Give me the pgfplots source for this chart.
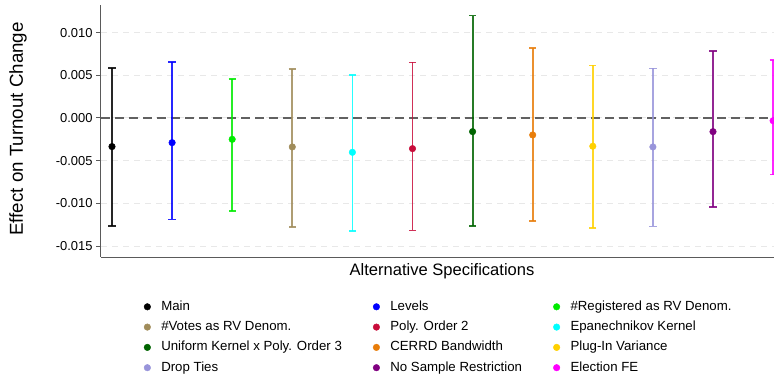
\documentclass[border=0pt]{standalone}
\usepackage{pgfplots}
\pgfplotsset{compat=1.18}
\usepackage{fontspec}
\setmainfont{Liberation Sans}

\definecolor{cMain}{RGB}{0,0,0}
\definecolor{cLevels}{RGB}{0,0,255}
\definecolor{cReg}{RGB}{0,235,0}
\definecolor{cVotes}{RGB}{160,140,90}
\definecolor{cEpan}{RGB}{0,255,255}
\definecolor{cPoly}{RGB}{200,12,58}
\definecolor{cUnif}{RGB}{0,100,0}
\definecolor{cCerrd}{RGB}{232,125,10}
\definecolor{cPlug}{RGB}{255,208,0}
\definecolor{cDrop}{RGB}{152,148,218}
\definecolor{cNoSamp}{RGB}{128,0,128}
\definecolor{cElec}{RGB}{255,0,255}
\definecolor{axisgray}{RGB}{90,90,90}

\pgfplotsset{
  spec/.style={
    only marks, mark=*, mark size=3.3bp, color=#1,
    mark options={solid, fill=#1, draw=#1},
    error bars/.cd,
      y dir=both, y explicit,
      error bar style={line width=1.8bp, #1, opacity=0.85},
      error mark options={rotate=90, mark size=3.6bp, line width=1.8bp, #1, opacity=0.85}
  }
}

\begin{document}
\begin{tikzpicture}
\useasboundingbox (-101bp,-124bp) rectangle (673bp,257bp);
\begin{axis}[
  at={(0,0)}, anchor=south west,
  scale only axis, width=673bp, height=252bp,
  xmin=0.817, xmax=12.015,
  ymin=-0.01628, ymax=0.01323,
  axis x line*=bottom, axis y line*=left,
  axis line style={-, draw=axisgray, line width=1bp},
  xtick=\empty,
  ytick={-0.015,-0.010,-0.005,0,0.005,0.010},
  scaled y ticks=false,
  yticklabel style={font=\fontsize{13}{15}\selectfont, /pgf/number format/.cd, fixed, fixed zerofill, precision=3, assume math mode=true},
  major tick length=5bp,
  tick style={draw=axisgray, line width=1bp},
  ytick align=outside, tick pos=left,
  ymajorgrids,
  grid style={draw=gray!18, line width=1bp, dash pattern=on 6bp off 5bp},
  ylabel={Effect on Turnout Change},
  every axis y label/.style={at={(axis description cs:-0.1233,0.508)}, rotate=90, anchor=center, font=\fontsize{18.8}{22}\selectfont},
  xlabel={Alternative Specifications},
  every axis x label/.style={at={(axis description cs:0.5067,-0.0556)}, anchor=center, font=\fontsize{16.6}{19}\selectfont},
  legend columns=3,
  legend cell align=left,
  legend style={at={(axis description cs:0.0634,-0.171)}, anchor=north west, draw=none, fill=none,
    font=\fontsize{13.3}{15}\selectfont, inner sep=0pt,
    nodes={inner sep=0pt, text height=10bp, text depth=3bp},
    row sep=7.3bp,
    /tikz/every even column/.append style={column sep=31bp},
    /tikz/every odd column/.append style={column sep=0bp}},
  legend image code/.code={\fill (0bp,0bp) circle (3.3bp); \path (-3.3bp,0bp) (13.7bp,0bp);},
]
% reference line at zero
\draw[draw=black!62, line width=1.3bp, dash pattern=on 9bp off 5bp] (axis cs:0.817,0) -- (axis cs:12.015,0);

\addplot[spec=cMain]   coordinates {(1,-0.00335) += (0,0.00919) -= (0,0.00927)};
\addlegendentry{Main}
\addplot[spec=cLevels] coordinates {(2,-0.00289) += (0,0.00943) -= (0,0.00899)};
\addlegendentry{Levels}
\addplot[spec=cReg]    coordinates {(3,-0.00250) += (0,0.00709) -= (0,0.00841)};
\addlegendentry{\#Registered as RV Denom.}
\addplot[spec=cVotes]  coordinates {(4,-0.00339) += (0,0.00915) -= (0,0.00939)};
\addlegendentry{\#Votes as RV Denom.}
\addplot[spec=cPoly]   coordinates {(6,-0.00359) += (0,0.01009) -= (0,0.00958)};
\addlegendentry{Poly. Order 2}
\addplot[spec=cEpan]   coordinates {(5,-0.00402) += (0,0.00908) -= (0,0.00923)};
\addlegendentry{Epanechnikov Kernel}
\addplot[spec=cUnif]   coordinates {(7,-0.00160) += (0,0.01359) -= (0,0.01102)};
\addlegendentry{Uniform Kernel x Poly. Order 3}
\addplot[spec=cCerrd]  coordinates {(8,-0.00199) += (0,0.01017) -= (0,0.01012)};
\addlegendentry{CERRD Bandwidth}
\addplot[spec=cPlug]   coordinates {(9,-0.00331) += (0,0.00946) -= (0,0.00962)};
\addlegendentry{Plug-In Variance}
\addplot[spec=cDrop]   coordinates {(10,-0.00339) += (0,0.00919) -= (0,0.00931)};
\addlegendentry{Drop Ties}
\addplot[spec=cNoSamp] coordinates {(11,-0.00160) += (0,0.00946) -= (0,0.00880)};
\addlegendentry{No Sample Restriction}
\addplot[spec=cElec]   coordinates {(12,-0.00032) += (0,0.00713) -= (0,0.00630)};
\addlegendentry{Election FE}
\end{axis}
\end{tikzpicture}
\end{document}
